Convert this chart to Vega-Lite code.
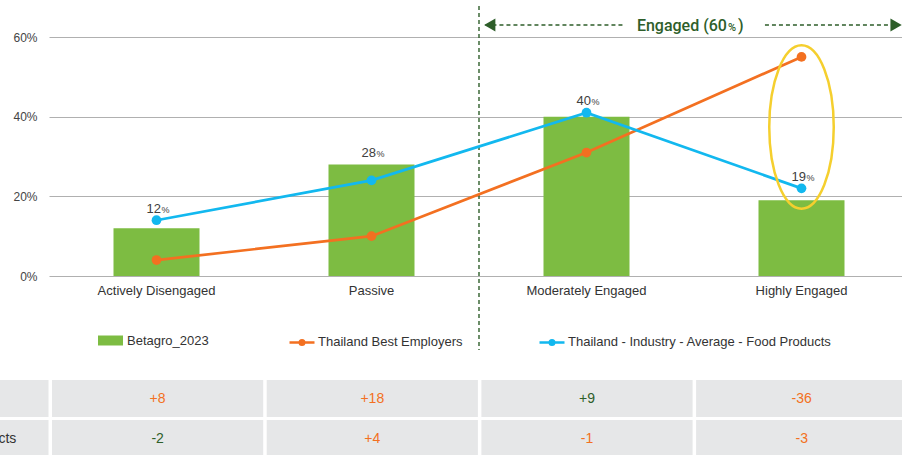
{
  "$schema": "https://vega.github.io/schema/vega-lite/v6.json",
  "width": 853,
  "height": 239,
  "autosize": {"type": "none"},
  "padding": {"left": 49, "top": 37, "right": 0, "bottom": 179},
  "background": "white",
  "config": {"view": {"stroke": null}, "font": "Liberation Sans"},
  "datasets": {
    "scores": [
      {"Category": "Actively Disengaged", "Betagro_2023": 12, "Thailand Best Employers": 4, "Thailand - Industry - Average - Food Products": 14},
      {"Category": "Passive", "Betagro_2023": 28, "Thailand Best Employers": 10, "Thailand - Industry - Average - Food Products": 24},
      {"Category": "Moderately Engaged", "Betagro_2023": 40, "Thailand Best Employers": 31, "Thailand - Industry - Average - Food Products": 41},
      {"Category": "Highly Engaged", "Betagro_2023": 19, "Thailand Best Employers": 55, "Thailand - Industry - Average - Food Products": 22}
    ],
    "gaps": [
      {"Comparison": "Thailand Best Employers", "Category": "Actively Disengaged", "Gap": "+8", "Favourable": false},
      {"Comparison": "Thailand Best Employers", "Category": "Passive", "Gap": "+18", "Favourable": false},
      {"Comparison": "Thailand Best Employers", "Category": "Moderately Engaged", "Gap": "+9", "Favourable": true},
      {"Comparison": "Thailand Best Employers", "Category": "Highly Engaged", "Gap": "-36", "Favourable": false},
      {"Comparison": "Thailand - Industry - Average - Food Products", "Category": "Actively Disengaged", "Gap": "-2", "Favourable": true},
      {"Comparison": "Thailand - Industry - Average - Food Products", "Category": "Passive", "Gap": "+4", "Favourable": false},
      {"Comparison": "Thailand - Industry - Average - Food Products", "Category": "Moderately Engaged", "Gap": "-1", "Favourable": false},
      {"Comparison": "Thailand - Industry - Average - Food Products", "Category": "Highly Engaged", "Gap": "-3", "Favourable": false}
    ]
  },
  "resolve": {"scale": {"x": "independent", "y": "independent"}},
  "layer": [
    {
      "data": {"values": [{}]},
      "mark": {"type": "rule", "color": "#2E5E2A", "strokeWidth": 1.4, "strokeDash": [4, 3]},
      "encoding": {
        "x": {"datum": 2, "type": "quantitative", "scale": {"domain": [0, 4], "range": [0, 860], "nice": false, "zero": false}, "axis": null},
        "y": {"datum": 67.8, "type": "quantitative", "scale": {"domain": [0, 60], "nice": false, "zero": false}, "axis": null},
        "y2": {"datum": -18.6}
      }
    },
    {
      "data": {"name": "scores"},
      "encoding": {
        "x": {
          "field": "Category", "type": "nominal",
          "sort": ["Actively Disengaged", "Passive", "Moderately Engaged", "Highly Engaged"],
          "scale": {"range": [0, 860], "paddingInner": 0.6, "paddingOuter": 0.3},
          "axis": {"title": null, "labelAngle": 0, "domain": false, "ticks": false, "labelFontSize": 13, "labelColor": "#333333", "labelPadding": 8}
        }
      },
      "layer": [
        {
          "mark": {"type": "bar"},
          "encoding": {
            "y": {
              "field": "Betagro_2023", "type": "quantitative",
              "scale": {"domain": [0, 60], "nice": false},
              "axis": {"title": null, "values": [0, 20, 40, 60], "labelExpr": "datum.value + '%'", "grid": true, "gridColor": "#B0B0B0", "gridWidth": 1, "domain": false, "ticks": false, "labelFontSize": 12, "labelColor": "#444444", "labelPadding": 12}
            },
            "fill": {
              "datum": "Betagro_2023", "type": "nominal",
              "scale": {"range": ["#7DBC42"]},
              "legend": {"title": null, "orient": "none", "legendX": 49, "legendY": 291, "symbolType": "M -1 -0.4 H 1 V 0.4 H -1 Z", "symbolSize": 625, "symbolStrokeWidth": 0, "labelFontSize": 13, "labelColor": "#333333", "labelOffset": 4, "labelLimit": 400}
            }
          }
        },
        {
          "transform": [{"fold": ["Thailand Best Employers", "Thailand - Industry - Average - Food Products"], "as": ["Series", "Score"]}],
          "mark": {"type": "line", "strokeWidth": 2.7},
          "encoding": {
            "y": {"field": "Score", "type": "quantitative"},
            "color": {
              "field": "Series", "type": "nominal",
              "scale": {"domain": ["Thailand Best Employers", "Thailand - Industry - Average - Food Products"], "range": ["#F37021", "#12B8EF"]},
              "legend": {"title": null, "orient": "none", "direction": "horizontal", "legendX": 239, "legendY": 291, "symbolType": "M -1 0 H 1 M 0.18 0 A 0.18 0.18 0 1 1 -0.18 0 A 0.18 0.18 0 1 1 0.18 0 Z", "symbolSize": 625, "symbolStrokeWidth": 2.5, "labelFontSize": 13, "labelColor": "#333333", "labelOffset": 2, "labelLimit": 400, "columnPadding": 71}
            }
          }
        },
        {
          "transform": [{"fold": ["Thailand Best Employers", "Thailand - Industry - Average - Food Products"], "as": ["Series", "Score"]}],
          "mark": {"type": "point", "filled": true, "size": 95, "opacity": 1},
          "encoding": {
            "y": {"field": "Score", "type": "quantitative"},
            "color": {"field": "Series", "type": "nominal"}
          }
        },
        {
          "transform": [{"calculate": "max(datum.Betagro_2023, datum['Thailand - Industry - Average - Food Products'])", "as": "LabelLevel"}],
          "mark": {"type": "text", "align": "right", "baseline": "alphabetic", "dx": 4.5, "dy": -7.5, "fontSize": 13, "color": "#404040"},
          "encoding": {
            "y": {"field": "LabelLevel", "type": "quantitative"},
            "text": {"field": "Betagro_2023", "type": "quantitative"}
          }
        },
        {
          "transform": [{"calculate": "max(datum.Betagro_2023, datum['Thailand - Industry - Average - Food Products'])", "as": "LabelLevel"}],
          "mark": {"type": "text", "align": "left", "baseline": "alphabetic", "dx": 5, "dy": -7.5, "fontSize": 9, "color": "#404040"},
          "encoding": {
            "y": {"field": "LabelLevel", "type": "quantitative"},
            "text": {"value": "%"}
          }
        }
      ]
    },
    {
      "data": {"values": [{}]},
      "layer": [
        {
          "mark": {"type": "rule", "color": "#2E5E2A", "strokeWidth": 1.4, "strokeDash": [4, 3]},
          "encoding": {
            "x": {"datum": 2.03, "type": "quantitative", "scale": {"domain": [0, 4], "range": [0, 860], "nice": false, "zero": false}, "axis": null},
            "x2": {"datum": 2.68},
            "y": {"datum": 63, "type": "quantitative", "scale": {"domain": [0, 60], "nice": false, "zero": false}, "axis": null}
          }
        },
        {
          "mark": {"type": "rule", "color": "#2E5E2A", "strokeWidth": 1.4, "strokeDash": [4, 3]},
          "encoding": {
            "x": {"datum": 3.33, "type": "quantitative", "scale": {"domain": [0, 4], "range": [0, 860], "nice": false, "zero": false}, "axis": null},
            "x2": {"datum": 3.92},
            "y": {"datum": 63, "type": "quantitative", "scale": {"domain": [0, 60], "nice": false, "zero": false}, "axis": null}
          }
        },
        {
          "mark": {"type": "point", "shape": "triangle-left", "filled": true, "size": 170, "color": "#2E5E2A", "opacity": 1},
          "encoding": {
            "x": {"datum": 2.05, "type": "quantitative", "scale": {"domain": [0, 4], "range": [0, 860], "nice": false, "zero": false}, "axis": null},
            "y": {"datum": 63, "type": "quantitative", "scale": {"domain": [0, 60], "nice": false, "zero": false}, "axis": null}
          }
        },
        {
          "mark": {"type": "point", "shape": "triangle-right", "filled": true, "size": 170, "color": "#2E5E2A", "opacity": 1},
          "encoding": {
            "x": {"datum": 3.94, "type": "quantitative", "scale": {"domain": [0, 4], "range": [0, 860], "nice": false, "zero": false}, "axis": null},
            "y": {"datum": 63, "type": "quantitative", "scale": {"domain": [0, 60], "nice": false, "zero": false}, "axis": null}
          }
        },
        {
          "mark": {"type": "text", "align": "right", "baseline": "alphabetic", "dy": 6, "fontSize": 16, "font": "Roboto", "fontWeight": 500, "color": "#2E5E2A"},
          "encoding": {
            "x": {"datum": 3.153, "type": "quantitative", "scale": {"domain": [0, 4], "range": [0, 860], "nice": false, "zero": false}, "axis": null},
            "y": {"datum": 63, "type": "quantitative", "scale": {"domain": [0, 60], "nice": false, "zero": false}, "axis": null},
            "text": {"value": "Engaged (60"}
          }
        },
        {
          "mark": {"type": "text", "align": "left", "baseline": "alphabetic", "dx": 1, "dy": 6, "fontSize": 11, "font": "Roboto", "fontWeight": 500, "color": "#2E5E2A"},
          "encoding": {
            "x": {"datum": 3.153, "type": "quantitative", "scale": {"domain": [0, 4], "range": [0, 860], "nice": false, "zero": false}, "axis": null},
            "y": {"datum": 63, "type": "quantitative", "scale": {"domain": [0, 60], "nice": false, "zero": false}, "axis": null},
            "text": {"value": "%"}
          }
        },
        {
          "mark": {"type": "text", "align": "left", "baseline": "alphabetic", "dx": 11, "dy": 6, "fontSize": 16, "font": "Roboto", "fontWeight": 500, "color": "#2E5E2A"},
          "encoding": {
            "x": {"datum": 3.153, "type": "quantitative", "scale": {"domain": [0, 4], "range": [0, 860], "nice": false, "zero": false}, "axis": null},
            "y": {"datum": 63, "type": "quantitative", "scale": {"domain": [0, 60], "nice": false, "zero": false}, "axis": null},
            "text": {"value": ")"}
          }
        },
        {
          "mark": {"type": "point", "shape": "M 0 -1 A 0.3945 1 0 1 1 0 1 A 0.3945 1 0 1 1 0 -1 Z", "filled": false, "size": 26732, "color": "#F5CF2E", "strokeWidth": 2.5, "opacity": 1},
          "encoding": {
            "x": {"datum": 3.5, "type": "quantitative", "scale": {"domain": [0, 4], "range": [0, 860], "nice": false, "zero": false}, "axis": null},
            "y": {"datum": 37.4, "type": "quantitative", "scale": {"domain": [0, 60], "nice": false, "zero": false}, "axis": null}
          }
        }
      ]
    },
    {
      "data": {"name": "gaps"},
      "encoding": {
        "y": {
          "field": "Comparison", "type": "nominal",
          "scale": {"domain": ["Thailand Best Employers", "Thailand - Industry - Average - Food Products"], "range": [343, 420], "paddingInner": 0.075, "paddingOuter": 0},
          "axis": null
        }
      },
      "layer": [
        {
          "mark": {"type": "rect", "color": "#E6E7E8"},
          "encoding": {
            "x": {"field": "Category", "type": "nominal", "scale": {"domain": ["Comparison", "Actively Disengaged", "Passive", "Moderately Engaged", "Highly Engaged"], "range": [-211.7, 858.3], "paddingInner": 0.0163, "paddingOuter": 0}, "axis": null}
          }
        },
        {
          "transform": [{"aggregate": [{"op": "count", "as": "Cells"}], "groupby": ["Comparison"]}],
          "mark": {"type": "rect", "color": "#E6E7E8"},
          "encoding": {
            "x": {"datum": "Comparison", "type": "nominal", "scale": {"domain": ["Comparison", "Actively Disengaged", "Passive", "Moderately Engaged", "Highly Engaged"], "range": [-211.7, 858.3], "paddingInner": 0.0163, "paddingOuter": 0}, "axis": null}
          }
        },
        {
          "mark": {"type": "text", "fontSize": 14, "baseline": "middle", "align": "center"},
          "encoding": {
            "x": {"field": "Category", "type": "nominal", "scale": {"domain": ["Comparison", "Actively Disengaged", "Passive", "Moderately Engaged", "Highly Engaged"], "range": [-211.7, 858.3], "paddingInner": 0.0163, "paddingOuter": 0}, "axis": null},
            "text": {"field": "Gap"},
            "color": {"condition": {"test": "datum.Favourable", "value": "#2E5E2A"}, "value": "#F37021"}
          }
        },
        {
          "transform": [{"aggregate": [{"op": "count", "as": "Cells"}], "groupby": ["Comparison"]}],
          "mark": {"type": "text", "fontSize": 14, "baseline": "middle", "align": "left", "dx": -104, "color": "#333333"},
          "encoding": {
            "x": {"datum": "Comparison", "type": "nominal", "bandPosition": 0, "scale": {"domain": ["Comparison", "Actively Disengaged", "Passive", "Moderately Engaged", "Highly Engaged"], "range": [-211.7, 858.3], "paddingInner": 0.0163, "paddingOuter": 0}, "axis": null},
            "text": {"field": "Comparison"}
          }
        }
      ]
    }
  ]
}
